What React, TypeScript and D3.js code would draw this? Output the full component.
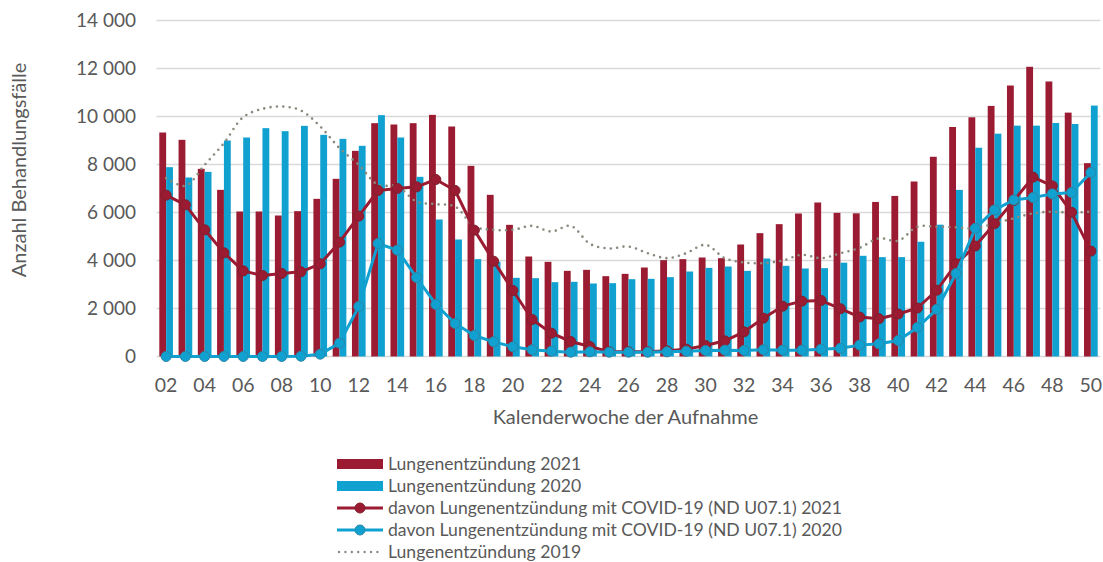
import React from "react";
import * as d3 from "d3";

const weeks: string[] = Array.from({ length: 49 }, (_, i) => String(i + 2).padStart(2, "0"));

const pneu2021: number[] = [
  9333, 9028, 7819, 6944, 6042, 6042, 5875, 6056, 6569, 7403, 8569, 9722, 9667, 9722, 10069, 9583, 7944,
  6736, 5486, 4167, 3944, 3569, 3611, 3347, 3444, 3708, 4014, 4056, 4125, 4097, 4667, 5139, 5514, 5958,
  6417, 5986, 5966, 6440, 6691, 7291, 8322, 9563, 9967, 10441, 11291, 12072, 11459, 10162, 8057,
];

const pneu2020: number[] = [
  7889, 7458, 7694, 9000, 9125, 9514, 9389, 9611, 9236, 9069, 8778, 10056, 9125, 7486, 5708, 4875, 4056,
  3950, 3278, 3264, 3097, 3111, 3042, 3056, 3222, 3236, 3306, 3542, 3694, 3750, 3569, 4083, 3778, 3667,
  3681, 3910, 4196, 4140, 4140, 4781, 5492, 6942, 8698, 9284, 9619, 9619, 9730, 9688, 10455,
];

const covid2021: number[] = [
  6722, 6319, 5278, 4319, 3569, 3375, 3458, 3528, 3861, 4764, 5847, 6917, 7000, 7069, 7375, 6917, 5264,
  3972, 2750, 1542, 972, 625, 417, 200, 200, 200, 236, 306, 458, 653, 1028, 1597, 2097, 2306, 2333, 1990,
  1645, 1575, 1770, 2021, 2760, 3861, 4600, 5534, 6496, 7472, 7109, 6008, 4391,
];

const covid2020: number[] = [
  0, 0, 0, 0, 0, 0, 0, 10, 97, 556, 2083, 4708, 4431, 3292, 2167, 1375, 875, 611, 403, 278, 222, 181, 194,
  181, 181, 181, 194, 222, 250, 264, 250, 278, 264, 264, 306, 340, 474, 530, 669, 1213, 1966, 3457, 5339,
  6106, 6524, 6622, 6775, 6831, 7667,
];

const pneu2019: number[] = [
  7431, 7111, 7986, 8889, 9972, 10319, 10417, 10250, 9583, 8681, 7986, 7153, 7083, 6458, 6347, 6250, 5417,
  5278, 5278, 5444, 5208, 5444, 4694, 4500, 4583, 4306, 4097, 4306, 4653, 4097, 3917, 3889, 4000, 4236,
  4097, 4300, 4530, 4921, 4823, 5409, 5409, 5381, 5339, 5548, 5757, 5966, 6036, 5994, 6036,
];

const yTicks: number[] = [0, 2000, 4000, 6000, 8000, 10000, 12000, 14000];

const legendLabels: string[] = [
  "Lungenentzündung 2021",
  "Lungenentzündung 2020",
  "davon Lungenentzündung mit COVID-19 (ND U07.1) 2021",
  "davon Lungenentzündung mit COVID-19 (ND U07.1) 2020",
  "Lungenentzündung 2019",
];

const RED = "#9b1c32";
const BLUE = "#10a1d1";
const RED_MARK_STROKE = "#7f1f2c";
const BLUE_MARK_STROKE = "#2b86a6";
const GRAY_DOT = "#8a8a7e";
const TEXT = "#595959";
const FONT = "Lato, 'Open Sans', sans-serif";

export default function App() {
  const W = 1103;
  const H = 562;
  const left = 156.5;
  const right = 1100.5;
  const top = 20.5;
  const bottom = 356.5;

  const x = d3.scaleBand<string>().domain(weeks).range([left, right]).paddingInner(0).paddingOuter(0);
  const y = d3.scaleLinear().domain([0, 14000]).range([bottom, top]);
  const bw = x.bandwidth();
  const barW = bw * 0.355;
  const cx = (i: number) => (x(weeks[i]) as number) + bw / 2;

  const lineGen = d3
    .line<number>()
    .x((_, i) => cx(i))
    .y((d) => y(d));
  const smoothGen = d3
    .line<number>()
    .x((_, i) => cx(i))
    .y((d) => y(d))
    .curve(d3.curveCatmullRom.alpha(0.5));

  const legendX = 337;
  const legendY0 = 464;
  const legendDy = 22;

  return (
    <svg
      width={W}
      height={H}
      style={{ position: "absolute", left: 0, top: 0, background: "#fff" }}
      fontFamily={FONT}
    >
      <rect x={0} y={0} width={W} height={H} fill="#fff" />
      {yTicks.map((t) => (
        <g key={t}>
          <line x1={left} x2={right} y1={y(t)} y2={y(t)} stroke="#d9d9d9" strokeWidth={1.5} />
          <text x={136} y={y(t)} dy="0.36em" textAnchor="end" fontSize={19} fill={TEXT}>
            {d3.format(",")(t).replace(/,/g, " ")}
          </text>
        </g>
      ))}
      {weeks.map((w, i) => (
        <g key={w}>
          <rect x={cx(i) - barW} y={y(pneu2021[i])} width={barW} height={bottom - y(pneu2021[i])} fill={RED} />
          <rect x={cx(i)} y={y(pneu2020[i])} width={barW} height={bottom - y(pneu2020[i])} fill={BLUE} />
        </g>
      ))}
      <path
        d={smoothGen(pneu2019) || ""}
        fill="none"
        stroke={GRAY_DOT}
        strokeWidth={2.6}
        strokeDasharray="0 6.4"
        strokeLinecap="round"
      />
      <path d={lineGen(covid2021) || ""} fill="none" stroke={RED} strokeWidth={3} strokeLinejoin="round" />
      {covid2021.map((v, i) => (
        <circle key={"r" + i} cx={cx(i)} cy={y(v)} r={5} fill={RED} stroke={RED_MARK_STROKE} strokeWidth={1} />
      ))}
      <path d={lineGen(covid2020) || ""} fill="none" stroke={BLUE} strokeWidth={3} strokeLinejoin="round" />
      {covid2020.map((v, i) => (
        <circle key={"b" + i} cx={cx(i)} cy={y(v)} r={5} fill={BLUE} stroke={BLUE_MARK_STROKE} strokeWidth={1} />
      ))}
      {weeks.map((w, i) =>
        i % 2 === 0 ? (
          <text key={"xt" + w} x={cx(i)} y={392} textAnchor="middle" fontSize={19.5} fill={TEXT}>
            {w}
          </text>
        ) : null
      )}
      <text x={625.5} y={424} textAnchor="middle" fontSize={20} fill={TEXT}>
        Kalenderwoche der Aufnahme
      </text>
      <text
        transform={`translate(26,170) rotate(-90)`}
        textAnchor="middle"
        fontSize={20}
        fill={TEXT}
      >
        Anzahl Behandlungsfälle
      </text>
      {legendLabels.map((lab, i) => {
        const ly = legendY0 + i * legendDy;
        let sym: React.ReactNode = null;
        if (i === 0 || i === 1) {
          sym = <rect x={legendX} y={ly - 5} width={46} height={10} fill={i === 0 ? RED : BLUE} />;
        } else if (i === 2 || i === 3) {
          const c = i === 2 ? RED : BLUE;
          const s = i === 2 ? RED_MARK_STROKE : BLUE_MARK_STROKE;
          sym = (
            <g>
              <line x1={legendX} x2={legendX + 46} y1={ly} y2={ly} stroke={c} strokeWidth={3} />
              <circle cx={legendX + 23} cy={ly} r={5} fill={c} stroke={s} strokeWidth={1} />
            </g>
          );
        } else {
          sym = (
            <line
              x1={legendX + 2}
              x2={legendX + 46}
              y1={ly}
              y2={ly}
              stroke={GRAY_DOT}
              strokeWidth={2.4}
              strokeDasharray="0 6.4"
              strokeLinecap="round"
            />
          );
        }
        return (
          <g key={lab}>
            {sym}
            <text x={388} y={ly} dy="0.36em" fontSize={17.6} fill={TEXT}>
              {lab}
            </text>
          </g>
        );
      })}
    </svg>
  );
}
